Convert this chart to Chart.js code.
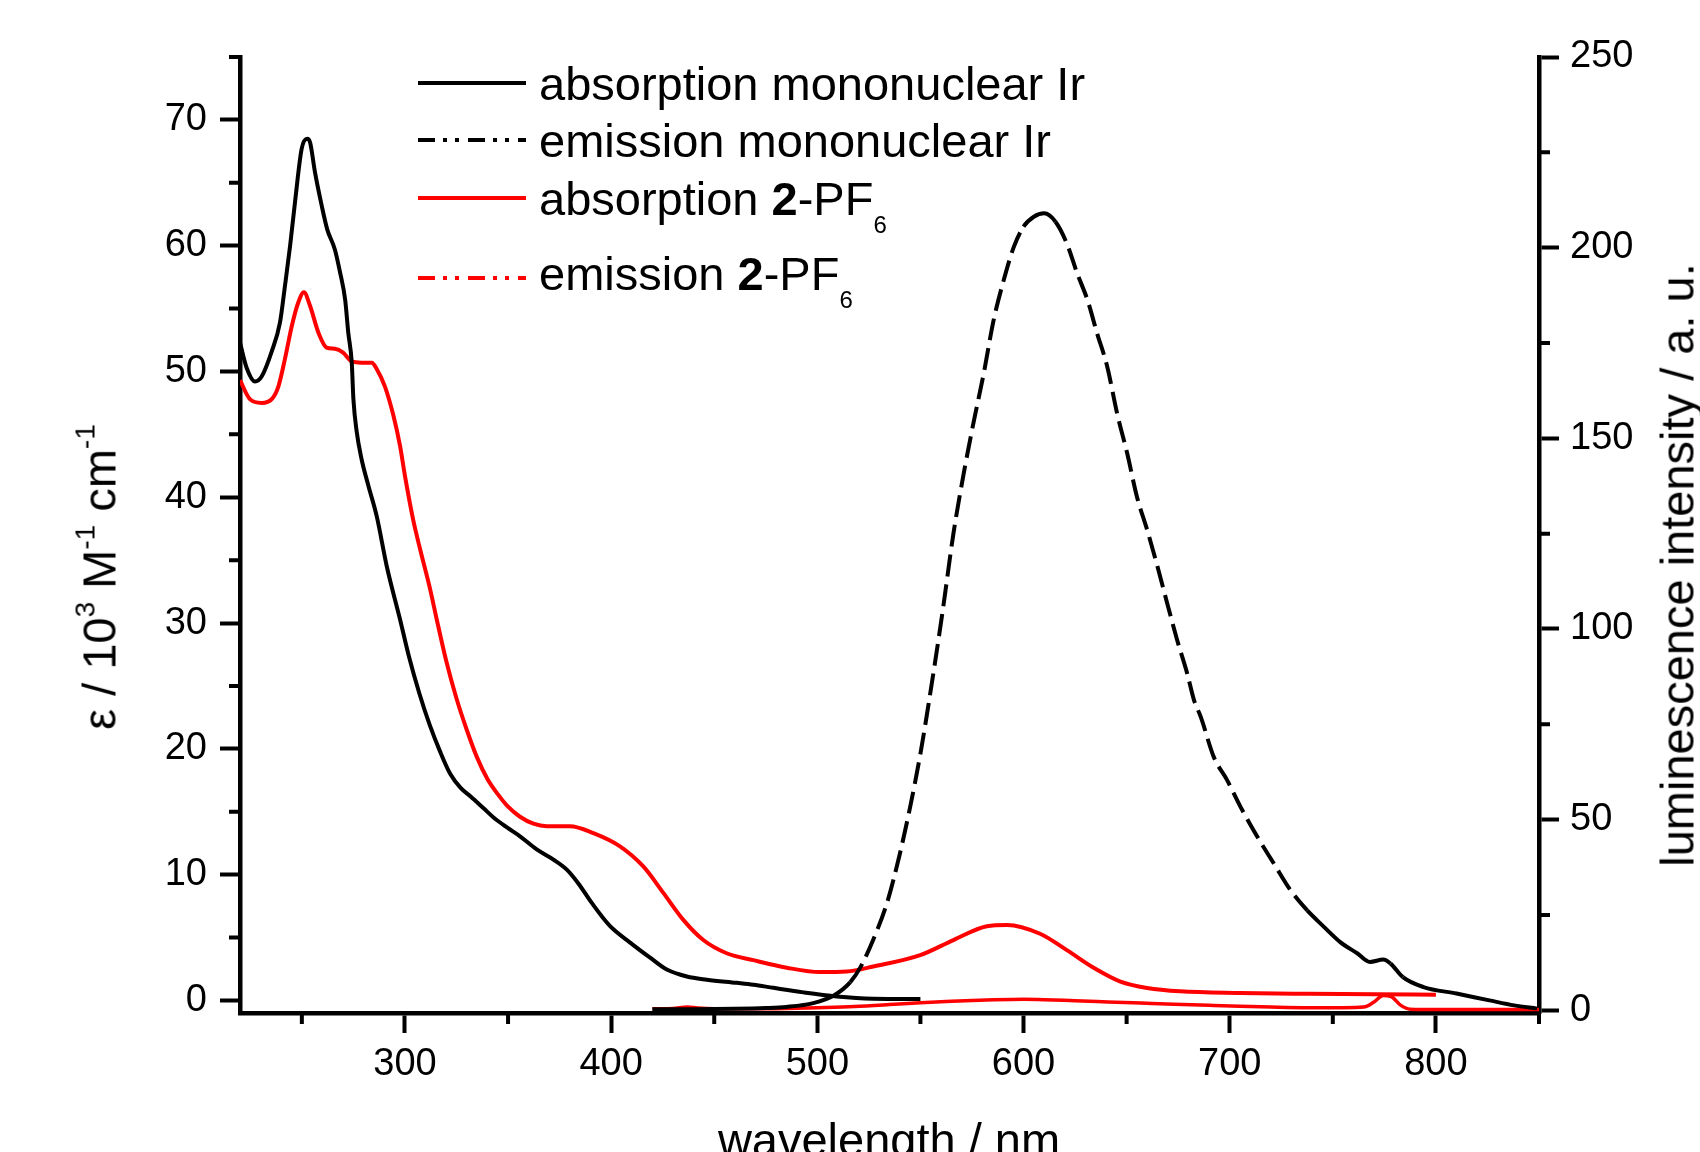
<!DOCTYPE html>
<html>
<head>
<meta charset="utf-8">
<script src="https://cdn.jsdelivr.net/npm/chart.js@4.4.1/dist/chart.umd.min.js"></script>
<style>
  html, body { margin: 0; padding: 0; background: #fff; }
  body { width: 1700px; height: 1152px; overflow: hidden; position: relative;
         font-family: "Liberation Sans", Arial, sans-serif; color: #000; }
  canvas { position: absolute; left: 0; top: 0; }
  .lg { position: absolute; left: 539px; font-size: 47px; line-height: 47px; white-space: nowrap; }
  .lg sub { font-size: 24px; line-height: 0; vertical-align: baseline; position: relative; top: 18px; }
  .title { position: absolute; font-size: 47px; line-height: 47px; white-space: nowrap; }
  .title sup { font-size: 28px; line-height: 0; vertical-align: baseline; position: relative; top: -21px; }
</style>
</head>
<body>
<canvas id="chart" width="1700" height="1152"></canvas>

<svg width="1700" height="320" style="position:absolute;left:0;top:0">
  <line x1="418" x2="526" y1="83" y2="83" stroke="#000" stroke-width="4"/>
  <line x1="418" x2="526" y1="140" y2="140" stroke="#000" stroke-width="4" stroke-dasharray="17 8 4 8 4 9"/>
  <line x1="418" x2="526" y1="198" y2="198" stroke="#ff0000" stroke-width="4"/>
  <line x1="418" x2="526" y1="278" y2="278" stroke="#ff0000" stroke-width="4" stroke-dasharray="17 8 4 8 4 9"/>
</svg>
<div class="lg" style="top:60px">absorption mononuclear Ir</div>
<div class="lg" style="top:117px">emission mononuclear Ir</div>
<div class="lg" style="top:175px">absorption <b>2</b>-PF<sub>6</sub></div>
<div class="lg" style="top:250px">emission <b>2</b>-PF<sub>6</sub></div>

<div class="title" style="left:99px;top:577px;transform:translate(-50%,-50%) rotate(-90deg)">ε / 10<sup>3</sup> M<sup>-1</sup> cm<sup>-1</sup></div>
<div class="title" style="left:1677px;top:565px;transform:translate(-50%,-50%) rotate(-90deg)">luminescence intensity / a. u.</div>
<div class="title" style="left:889px;top:1116px;transform:translateX(-50%)">wavelength / nm</div>

<script>
"use strict";

// absorption, mononuclear Ir complex (left axis, 10^3 M-1 cm-1)
const wlAbsIr = [220, 223.2, 227.3, 230.5, 235.4, 239.4, 241.8, 244.3, 246.7, 249.9, 252.6, 254, 256.4, 259.6,
  262.3, 266, 268.5, 271, 272.5, 274.2, 275, 276.6, 279, 282.3, 286.3, 291.2, 297.6, 302, 307, 312, 317, 322,
  327, 332, 338, 344, 350, 355.8, 363.9, 372, 378.5, 384.1, 390.6, 399.5, 409.2, 418.9, 427, 436.7, 446.4,
  461, 469, 478.7, 493.3, 509.4, 527.2, 550];
const epsAbsIr = [52.3, 50.3, 49.2, 49.6, 51.6, 53.9, 56.8, 60, 63.5, 67.7, 68.5, 68.2, 65.8, 63.2,
  61.3, 59.7, 57.9, 55.7, 53.1, 50.7, 47.8, 45.2, 43, 40.9, 38.5, 34.5, 30.3, 27.3, 24.4, 21.9, 19.8, 18.0,
  16.9, 16.2, 15.3, 14.4, 13.7, 13.05, 12, 11.2, 10.4, 9.3, 7.75, 5.9, 4.6, 3.4, 2.45, 1.9, 1.65,
  1.4, 1.25, 1.0, 0.64, 0.32, 0.14, 0.11];

// emission, mononuclear Ir complex (right axis, a. u.)
const wlEmIr = [420, 440, 460, 475, 485, 498, 508, 516, 521, 527, 533.7, 540, 545, 550, 554, 560.6, 566, 571,
  576, 580.7, 585.5, 590.4, 595.3, 600, 605, 610, 615.5, 621, 626, 631, 635.7, 640.6, 645.4, 650.3, 655,
  660, 665, 669.7, 674.5, 679.4, 682.6, 686, 692.3, 698.8, 705.3, 713.4, 721.4, 729.5, 737.6, 745.7, 753.6,
  762, 768, 774.5, 778, 784, 794, 810, 826, 838, 849];
const intEmIr = [0.3, 0.3, 0.4, 0.6, 0.9, 1.9, 3.9, 7.4, 11.4, 18.4, 28, 41, 53.3, 67.3, 80.5, 104, 125, 140.8,
  154.8, 167, 181, 191.5, 200.2, 205.5, 208.1, 209, 206.8, 201.1, 193.3, 186.3, 177.5, 168.8, 156.5, 146, 134.7,
  125.9, 116.3, 106.7, 97.1, 88.3, 81.5, 76.9, 66.4, 60.3, 53.3, 45.5, 38.5, 31.5, 26.2, 21.9, 17.9,
  14.9, 12.7, 13.3, 12.25, 8.7, 6.1, 4.4, 2.6, 1.3, 0.45];

// absorption, 2-PF6 (left axis)
const wlAbs2 = [220, 224.8, 230.5, 235.4, 238.6, 241.8, 245.1, 248.3, 251, 254, 258, 262, 266, 270, 274.2, 279,
  283.9, 286.3, 290.3, 294.4, 297.6, 300, 304, 307.3, 312.2, 315.4, 320, 325, 330, 335, 340, 345, 350, 355.8,
  362.3, 368.8, 380, 391.4, 404.3, 415.6, 425.3, 435, 444.7, 456, 469, 485.2, 501.3, 514.3, 527.2, 549.9,
  566, 582.2, 592, 608, 621, 634, 647, 660, 676, 705, 737.6, 770, 800];
const epsAbs2 = [49.3, 47.8, 47.5, 47.8, 48.8, 51, 53.6, 55.5, 56.3, 55.2, 53.1, 51.9, 51.8, 51.5, 50.8, 50.7,
  50.7, 50.2, 48.8, 46.5, 44.1, 41.7, 38.2, 35.9, 32.7, 30.3, 27, 24, 21.5, 19.3, 17.6, 16.4, 15.4, 14.6,
  14.05, 13.85, 13.85, 13.3, 12.25, 10.65, 8.55, 6.4, 4.8, 3.75, 3.2, 2.6, 2.25, 2.3, 2.7, 3.6,
  4.8, 5.9, 6.0, 5.3, 4.0, 2.6, 1.5, 0.99, 0.72, 0.59, 0.53, 0.5, 0.45];

// emission, 2-PF6 (right axis)
const wlEm2 = [420, 430, 437, 442, 450, 470, 485, 500, 518, 535, 550, 565, 582, 600, 610, 625, 641, 657, 673,
  690, 705, 720, 738, 755, 765, 770, 774.5, 778, 783, 787.5, 800, 825, 850];
const intEm2 = [0.4, 0.5, 0.9, 0.6, 0.4, 0.4, 0.5, 0.7, 1.0, 1.5, 2.0, 2.4, 2.7, 2.9, 2.8, 2.5, 2.2, 1.9, 1.6,
  1.3, 1.05, 0.85, 0.7, 0.7, 0.85, 2.2, 3.9, 3.7, 1.3, 0.3, 0.2, 0.2, 0.2];

// ticks
const xMajor = [300, 400, 500, 600, 700, 800];
const xMinor = [250, 350, 450, 550, 650, 750, 850];
const yLeftMajor = [0, 10, 20, 30, 40, 50, 60, 70];
const yLeftMinor = [5, 15, 25, 35, 45, 55, 65, 75];
const yRightMajor = [0, 50, 100, 150, 200, 250];
const yRightMinor = [25, 75, 125, 175, 225];

const pairs = (xs, ys) => xs.map((x, i) => ({x: x, y: ys[i]}));

const fontFamily = '"Liberation Sans", Arial, sans-serif';

// short ticks between the labelled ones
const minorTicks = {
    id: 'minorTicks',
    afterDraw(chart) {
        const ctx = chart.ctx;
        const area = chart.chartArea;
        const len = 11;
        ctx.save();
        ctx.strokeStyle = '#000';
        ctx.lineWidth = 4;
        ctx.beginPath();
        xMinor.forEach(v => {
            const p = chart.scales.x.getPixelForValue(v);
            ctx.moveTo(p, area.bottom);
            ctx.lineTo(p, area.bottom + len);
        });
        yLeftMinor.forEach(v => {
            const p = chart.scales.y.getPixelForValue(v);
            ctx.moveTo(area.left - len, p);
            ctx.lineTo(area.left, p);
        });
        yRightMinor.forEach(v => {
            const p = chart.scales.y2.getPixelForValue(v);
            ctx.moveTo(area.right, p);
            ctx.lineTo(area.right + len, p);
        });
        ctx.stroke();
        ctx.restore();
    }
};

const axisGrid = {
    display: true,
    drawOnChartArea: false,
    drawTicks: true,
    tickLength: 20,
    tickWidth: 4,
    tickColor: '#000'
};

new Chart(document.getElementById('chart'), {
    type: 'line',
    data: {
        datasets: [
            {
                label: 'absorption mononuclear Ir',
                data: pairs(wlAbsIr, epsAbsIr),
                yAxisID: 'y',
                borderColor: '#000',
                borderWidth: 4
            },
            {
                label: 'emission mononuclear Ir',
                data: pairs(wlEmIr, intEmIr),
                yAxisID: 'y2',
                borderColor: '#000',
                borderWidth: 4,
                // dashes show on the steep flanks, the flat tail looks solid
                segment: {
                    borderDash: c => Math.abs(c.p1.y - c.p0.y) > Math.abs(c.p1.x - c.p0.x) ? [22, 8] : undefined
                }
            },
            {
                label: 'absorption 2-PF6',
                data: pairs(wlAbs2, epsAbs2),
                yAxisID: 'y',
                borderColor: '#ff0000',
                borderWidth: 4
            },
            {
                label: 'emission 2-PF6',
                data: pairs(wlEm2, intEm2),
                yAxisID: 'y2',
                borderColor: '#ff0000',
                borderWidth: 3.5
            }
        ]
    },
    options: {
        responsive: false,
        animation: false,
        events: [],
        devicePixelRatio: 1,
        layout: {padding: {top: 57, left: 0, right: 0, bottom: 0}},
        elements: {
            point: {radius: 0},
            line: {cubicInterpolationMode: 'monotone', fill: false}
        },
        plugins: {
            legend: {display: false},
            tooltip: {enabled: false},
            title: {display: false}
        },
        scales: {
            x: {
                type: 'linear',
                min: 220,
                max: 850,
                afterBuildTicks: s => { s.ticks = xMajor.map(v => ({value: v})); },
                afterFit: s => { s.height = 139; },
                ticks: {
                    autoSkip: false,
                    maxRotation: 0,
                    padding: 9,
                    color: '#000',
                    font: {family: fontFamily, size: 38}
                },
                grid: axisGrid,
                border: {display: true, width: 4.5, color: '#000'}
            },
            y: {
                type: 'linear',
                position: 'left',
                min: -1,
                max: 75,
                afterBuildTicks: s => { s.ticks = yLeftMajor.map(v => ({value: v})); },
                afterFit: s => { s.width = 240; },
                ticks: {
                    autoSkip: false,
                    padding: 13,
                    color: '#000',
                    font: {family: fontFamily, size: 38}
                },
                grid: axisGrid,
                border: {display: true, width: 4.5, color: '#000'}
            },
            y2: {
                type: 'linear',
                position: 'right',
                min: -0.7,
                max: 250,
                afterBuildTicks: s => { s.ticks = yRightMajor.map(v => ({value: v})); },
                afterFit: s => { s.width = 161; },
                ticks: {
                    autoSkip: false,
                    padding: 11,
                    color: '#000',
                    font: {family: fontFamily, size: 38}
                },
                grid: axisGrid,
                border: {display: true, width: 4.5, color: '#000'}
            }
        }
    },
    plugins: [minorTicks]
});
</script>
</body>
</html>
